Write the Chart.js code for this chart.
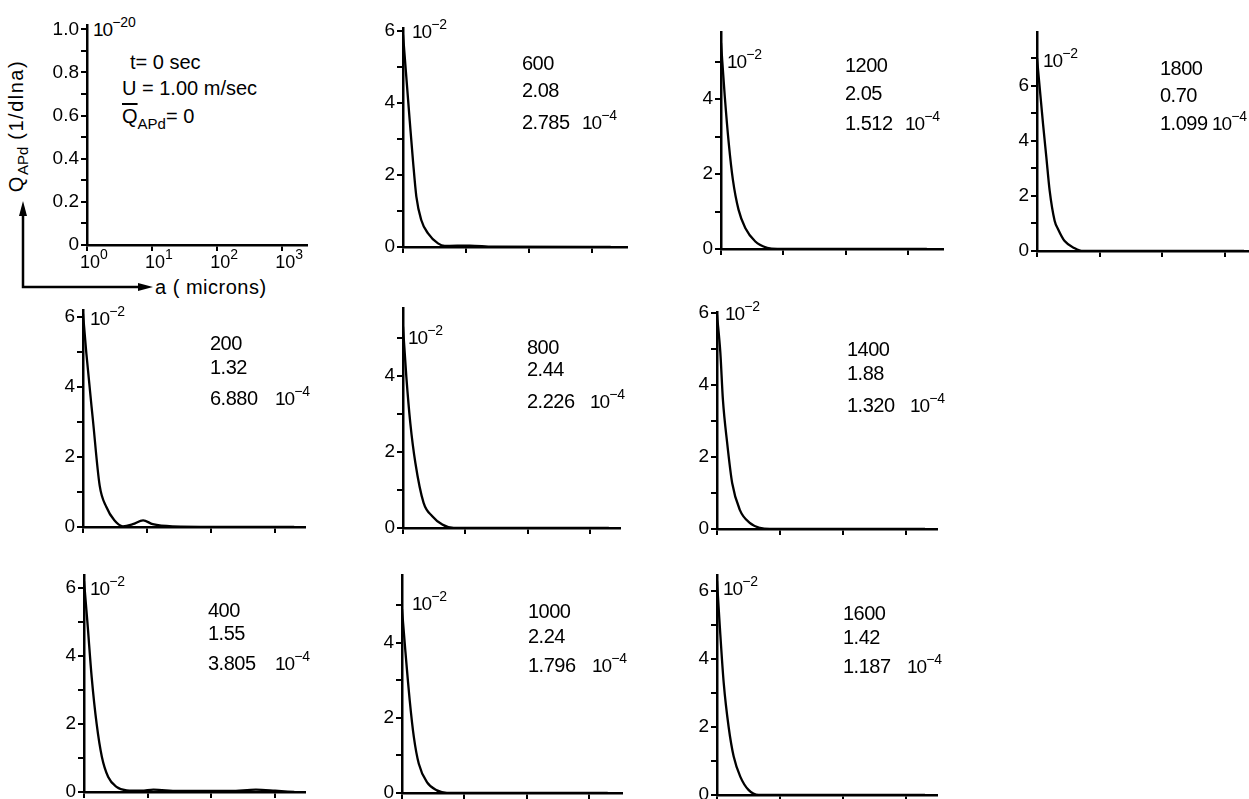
<!DOCTYPE html>
<html>
<head>
<meta charset="utf-8">
<script src="https://cdn.jsdelivr.net/npm/chart.js@4.4.1/dist/chart.umd.min.js"></script>
<style>
  html, body { margin: 0; padding: 0; background: #fff; }
  body { width: 1249px; height: 799px; position: relative; overflow: hidden;
         font-family: "Liberation Sans", Arial, sans-serif; color: #000; }
  .panel { position: absolute; }
  .ann { position: absolute; font-size: 20px; line-height: 20px; white-space: nowrap; letter-spacing: -0.5px; }
  .exp { position: absolute; font-size: 19px; line-height: 19px; white-space: nowrap; letter-spacing: -1px; }
  .exp span { font-size: 14px; position: relative; top: -9px; letter-spacing: 0; }
  #ytitle { position: absolute; left: 16px; top: 126px; transform: translate(-50%, -50%) rotate(-90deg);
            font-size: 20px; line-height: 20px; letter-spacing: 1.5px; white-space: nowrap; }
  #ytitle sub { font-size: 15px; line-height: 0; vertical-align: -5px; letter-spacing: 0; }
  .qbar sub { font-size: 15px; line-height: 0; vertical-align: -6px; }
</style>
</head>
<body>

<svg style="position:absolute;left:0;top:0" width="200" height="300">
  <polyline points="23,214 23,287 140,287" fill="none" stroke="#000" stroke-width="2.5"/>
  <polygon points="23,201 19,216 27,216" fill="#000"/>
  <polygon points="153,287 138,283 138,291" fill="#000"/>
</svg>
<div id="ytitle">Q<sub>APd</sub> (1/dlna)</div>
<div class="ann" style="left:155px;top:277px;letter-spacing:0.5px">a ( microns)</div>
<div class="exp" style="left:93px;top:20px">10<span>−20</span></div>
<div class="ann" style="left:130px;top:52px;letter-spacing:0">t= 0 sec</div>
<div class="ann" style="left:122px;top:78px;letter-spacing:0">U = 1.00 m/sec</div>
<div class="ann qbar" style="left:122px;top:106px;letter-spacing:0"><span style="text-decoration:overline">Q</span><sub>APd</sub>= 0</div>

<script>
// --- Data ---
const times = ['600', '1200', '1800', '200', '800', '1400', '400', '1000', '1600'];
const velocities = ['2.08', '2.05', '0.70', '1.32', '2.44', '1.88', '1.55', '2.24', '1.42'];
const meanQ = ['2.785', '1.512', '1.099', '6.880', '2.226', '1.320', '3.805', '1.796', '1.187'];

// particle radius a (microns) and Q_APd (x 10^-2)
const a200 = [1, 1.13, 1.43, 1.82, 2.32, 3.09, 4.2, 6.0, 8.7, 12.3, 25, 720, 2000];
const q200 = [6.1, 4.95, 3.05, 1.19, 0.57, 0.19, 0.02, 0.08, 0.19, 0.08, 0.02, 0, 0];
const a400 = [1, 1.13, 1.32, 1.58, 1.91, 2.4, 3.24, 4.68, 8, 12.3, 30, 200, 500, 1000, 2000];
const q400 = [6.2, 5.0, 3.38, 2.0, 1.03, 0.44, 0.15, 0.05, 0.04, 0.07, 0.03, 0.03, 0.07, 0.04, 0];
const a600 = [1, 1.28, 1.44, 1.63, 1.95, 2.5, 3.6, 4.6, 11.5, 27, 2000];
const q600 = [5.9, 3.5, 2.4, 1.4, 0.75, 0.38, 0.1, 0.03, 0.04, 0.01, 0];
const a800 = [1, 1.13, 1.31, 1.58, 2.14, 2.95, 4.27, 6.5, 2000];
const q800 = [5.3, 3.99, 2.76, 1.71, 0.66, 0.31, 0.09, 0, 0];
const a1000 = [1, 1.13, 1.33, 1.55, 1.86, 2.51, 3.63, 5.25, 2000];
const q1000 = [4.9, 3.8, 2.47, 1.49, 0.78, 0.29, 0.07, 0, 0];
const a1200 = [1, 1.15, 1.33, 1.55, 1.91, 2.45, 3.55, 5.5, 8, 2000];
const q1200 = [5.5, 4.07, 2.83, 1.85, 1.05, 0.56, 0.2, 0.03, 0, 0];
const a1400 = [1, 1.13, 1.24, 1.45, 1.74, 2.29, 3.31, 4.79, 6.9, 2000];
const q1400 = [5.95, 4.9, 3.6, 2.39, 1.28, 0.54, 0.17, 0.03, 0, 0];
const a1600 = [1, 1.1, 1.28, 1.53, 1.84, 2.34, 3.16, 4.57, 2000];
const q1600 = [6.3, 5.05, 3.28, 2.0, 1.13, 0.54, 0.15, 0, 0];
const a1800 = [1, 1.25, 1.41, 1.59, 1.91, 2.16, 2.76, 4.0, 5.4, 2000];
const q1800 = [7.0, 4.6, 3.4, 2.2, 1.1, 0.8, 0.36, 0.1, 0, 0];

// --- Ticks ---
const xTickValues = [1, 10, 100, 1000];
const xTickExponents = ['0', '1', '2', '3'];
const yTicksT0 = [0, 0.1, 0.2, 0.3, 0.4, 0.5, 0.6, 0.7, 0.8, 0.9, 1.0];
const yLabelsT0 = ['0', '0.2', '0.4', '0.6', '0.8', '1.0'];

// --- Panel layout (axis origin, axis ends, in page px) ---
const panels = [
    { x0: 87,   y0: 245, xEnd: 307,  yTop: 25,  yMax: 1.02, decades: 3.38, a: [], q: [], t0: true },
    { x0: 403,  y0: 247, xEnd: 627,  yTop: 28,  yMax: 6.08, decades: 3.56, a: a600,  q: q600 },
    { x0: 721,  y0: 249, xEnd: 943,  yTop: 32,  yMax: 5.79, decades: 3.56, a: a1200, q: q1200 },
    { x0: 1037, y0: 251, xEnd: 1249, yTop: 32,  yMax: 7.95, decades: 3.38, a: a1800, q: q1800 },
    { x0: 83,   y0: 527, xEnd: 305,  yTop: 310, yMax: 6.2,  decades: 3.47, a: a200,  q: q200 },
    { x0: 403,  y0: 528, xEnd: 620,  yTop: 308, yMax: 5.79, decades: 3.48, a: a800,  q: q800 },
    { x0: 717,  y0: 529, xEnd: 937,  yTop: 312, yMax: 6.03, decades: 3.49, a: a1400, q: q1400 },
    { x0: 84,   y0: 792, xEnd: 305,  yTop: 575, yMax: 6.38, decades: 3.47, a: a400,  q: q400 },
    { x0: 402,  y0: 793, xEnd: 622,  yTop: 575, yMax: 5.81, decades: 3.53, a: a1000, q: q1000 },
    { x0: 717,  y0: 795, xEnd: 937,  yTop: 575, yMax: 6.47, decades: 3.49, a: a1600, q: q1600 }
];

// text spots: [left, line1 y, line2 y, line3 y, 10^-4 left, 10^-2 left, 10^-2 y]  (y = text centre)
const textSpots = [
    [522, 63, 90, 122, 582, 412, 31],
    [845, 65, 93, 123, 905, 727, 61],
    [1160, 68, 95, 123, 1205, 1043, 60],
    [210, 343, 367, 398, 275, 90, 318],
    [527, 347, 369, 401, 590, 408, 337],
    [847, 349, 373, 405, 910, 725, 313],
    [208, 610, 633, 663, 275, 90, 588],
    [528, 611, 636, 665, 592, 412, 603],
    [843, 613, 637, 666, 907, 723, 588]
];

const LEFT = 34, TOP = 18, RIGHT = 4, BOTTOM = 28;
const INK = '#000';
const FAMILY = '"Liberation Sans", Arial, sans-serif';
const tickFont = { family: FAMILY, size: 19 };

// powers of ten under the t=0 panel's x axis
const decadeLabels = {
    id: 'decadeLabels',
    afterDraw(chart) {
        if (!chart.options.plugins.decadeLabels.show) return;
        const ctx = chart.ctx;
        const xs = chart.scales.x;
        ctx.save();
        ctx.fillStyle = INK;
        ctx.textBaseline = 'alphabetic';
        ctx.textAlign = 'left';
        xTickValues.forEach((v, i) => {
            const px = xs.getPixelForValue(v);
            ctx.font = '18px ' + FAMILY;
            ctx.fillText('10', px - 7, xs.top + 23);
            const w = ctx.measureText('10').width;
            ctx.font = '14px ' + FAMILY;
            ctx.fillText(xTickExponents[i], px - 7 + w, xs.top + 14);
        });
        ctx.restore();
    }
};

function addText(cls, html, left, centerY, half) {
    const d = document.createElement('div');
    d.className = cls;
    d.innerHTML = html;
    d.style.left = left + 'px';
    d.style.top = (centerY - half) + 'px';
    document.body.appendChild(d);
    return d;
}

panels.forEach(p => {
    const w = LEFT + (p.xEnd - p.x0) + RIGHT;
    const h = TOP + (p.y0 - p.yTop) + BOTTOM;
    const div = document.createElement('div');
    div.className = 'panel';
    div.style.left = (p.x0 - LEFT) + 'px';
    div.style.top = (p.yTop - TOP) + 'px';
    const canvas = document.createElement('canvas');
    canvas.width = w;
    canvas.height = h;
    div.appendChild(canvas);
    document.body.appendChild(div);

    const yTicks = p.t0 ? yTicksT0 : Array.from({ length: Math.floor(p.yMax) + 1 }, (_, i) => i);

    new Chart(canvas, {
        type: 'line',
        data: {
            datasets: [{
                data: p.a.map((a, i) => ({ x: a, y: p.q[i] })),
                borderColor: INK,
                borderWidth: 2.3,
                pointRadius: 0,
                fill: false,
                cubicInterpolationMode: 'monotone'
            }]
        },
        options: {
            responsive: false,
            animation: false,
            layout: { padding: { top: TOP, right: RIGHT, left: 0, bottom: 0 } },
            plugins: {
                legend: { display: false },
                tooltip: { enabled: false },
                decadeLabels: { show: !!p.t0 }
            },
            scales: {
                x: {
                    type: 'logarithmic',
                    min: 1,
                    max: Math.pow(10, p.decades),
                    afterFit: s => { s.height = BOTTOM; },
                    afterBuildTicks: s => { s.ticks = xTickValues.map(v => ({ value: v })); },
                    ticks: { callback: () => '', autoSkip: false, maxRotation: 0 },
                    grid: { drawOnChartArea: false, drawTicks: true, tickLength: 6, color: INK, lineWidth: 2 },
                    border: { color: INK, width: 2.5 }
                },
                y: {
                    type: 'linear',
                    min: 0,
                    max: p.yMax,
                    afterFit: s => { s.width = LEFT; },
                    afterBuildTicks: s => { s.ticks = yTicks.map(v => ({ value: v })); },
                    ticks: {
                        callback: (v, i) => p.t0 ? (i % 2 === 0 ? yLabelsT0[i / 2] : '') : (i % 2 === 0 ? String(v) : ''),
                        font: tickFont, color: INK, padding: 2, autoSkip: false
                    },
                    grid: { drawOnChartArea: false, drawTicks: true, tickLength: 6, color: INK, lineWidth: 2 },
                    border: { color: INK, width: 2.5 }
                }
            }
        },
        plugins: [decadeLabels]
    });
});

// --- Annotations ---
textSpots.forEach((s, i) => {
    addText('ann', times[i], s[0], s[1], 10);
    addText('ann', velocities[i], s[0], s[2], 10);
    const q = addText('ann', meanQ[i], s[0], s[3], 10);
    const expLeft = Math.max(s[4], s[0] + q.offsetWidth + 4);
    addText('exp', '10<span>−4</span>', expLeft, s[3], 9);
    addText('exp', '10<span>−2</span>', s[5], s[6], 9);
});
</script>
</body>
</html>
